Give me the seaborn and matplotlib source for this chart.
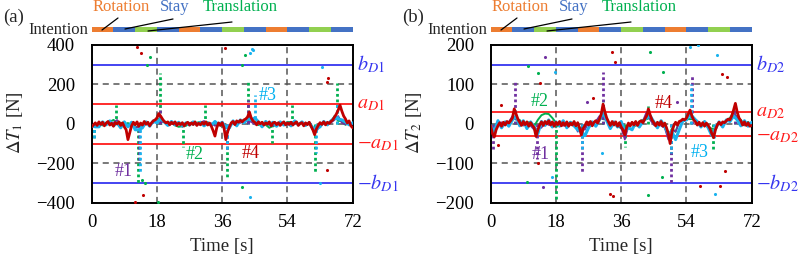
import numpy as np
import matplotlib
matplotlib.use("Agg")
import matplotlib.pyplot as plt
from matplotlib.lines import Line2D
import seaborn as sns

# ---- data ----
# red trace sampled every 0.5 s, the other baselines every 1 s
t_fine = np.arange(0, 72.5, 0.5)
t_coarse = np.arange(0, 73, 1)

red_a = [-15, -5, 5, -8, 10, -3, 8, -10, 4, 12, -6, 3, -12, 6, 0, 10, -8, 5, -15, -30,
         -80, -45, -10, 8, -5, 10, -12, 4, -6, 12, -2, 8, -10, 5, 15, 20, 30, 52, 40, 25,
         12, 5, 10, -5, 8, 0, 10, -8, 4, -4, 6, -10, 2, 8, -6, 5, -3, 10, -8, 3,
         -5, 7, -2, 10, -6, 4, -12, -35, -62, -20, 5, -8, 6, -20, -80, -40, -15, 5, 12, -4,
         15, 8, 18, 10, 20, 25, 35, 60, 30, 15, 8, -5, 10, 0, 8, -6, 5, -2, 10, -10,
         4, 8, -4, 6, -8, 3, 10, -5, 5, -3, 8, -6, 4, 10, -8, 2, 6, -10, 5, -4,
         8, -12, -30, -55, -25, -8, 6, -3, 10, -5, 8, 2, 12, 20, 35, 50, 70, 95, 65, 40,
         25, 5, 15, -10, -20]
cyan_a = [-10, -15, -15, 10, -5, 15, -10, 5, -20, 10, -15, 8, -30, -30, -20, 10, -12, 15, 5, 25,
          10, -8, 12, -5, 8, -10, 5, -6, 10, -4, 8, -10, 5, -8, 12, -5, 8, -20, -20, 15,
          -10, 20, 5, 25, 20, 30, 10, -15, 12, -5, 8, -12, 10, -6, 5, -10, 15, -5, 10, -8,
          6, -20, -25, -15, 12, -5, 15, 30, 25, 20, 10, -5, 5]
green_a = [-5, -10, 5, -8, 6, 10, 20, 8, 5, -6, 4, -8, -20, -10, -10, 5, -4, 8, 30, 12,
           15, -5, 6, -8, -15, -12, -10, 5, -4, 6, 10, 8, 8, -5, 4, -6, -10, -12, -15, 8,
           -4, 10, 20, 15, 15, 5, -6, 8, -5, -20, -10, -8, 6, -4, 10, 8, 8, -5, 6, -8,
           4, -30, -15, -10, 5, -4, 10, 40, 15, 15, -5, 6, -4]
purple_a = [-5, -10, 4, -3, 5, -4, 6, 20, -3, 4, -10, 3, -20, -15, -10, 4, -3, 5, 15, 10,
            8, -4, 3, -5, 4, -15, -3, 5, -4, 3, 6, 15, -4, 3, -10, -5, -8, -12, -10, 4,
            -3, 5, 15, 12, 10, -3, 4, -5, 3, -6, -10, 4, -3, 5, -4, 10, 3, -5, 4, -3,
            5, -20, -40, -5, 3, -4, 6, 20, 40, 5, -3, 4, -2]

red_b = [-5, -25, -33, -15, -5, 3, -6, 4, -3, 6, 2, 8, 15, 38, 25, 12, 4, -4, 6, -2,
         5, -6, 3, -4, -10, -32, -15, -3, 5, -4, 6, 0, 8, -3, 5, -6, 4, -2, 6, -5,
         3, -4, 5, -6, 2, -3, 6, -5, 3, -10, -28, -12, -4, 5, -3, 6, -5, 4, 8, 2,
         12, 25, 50, 30, 15, 5, -4, 6, -3, 5, -6, 3, -8, -15, -28, -10, 2, -5, 4, -3,
         6, -4, 5, 8, 3, 12, 20, 38, 22, 10, 3, -5, 4, -3, 6, -6, 2, -10, -25, -50,
         -20, -5, 4, -3, 6, 8, 12, 10, 15, 25, 35, 20, 10, 5, -3, 4, -5, 3, -6, 2,
         -4, -12, -25, -35, -15, -3, 4, -2, 5, 3, 8, 12, 10, 20, 35, 52, 30, 15, 8, -3,
         5, -4, 2, -6, -4]
cyan_b = [-5, -20, 8, -10, 5, -6, 10, 20, -5, 8, -12, 5, -8, -25, 6, -4, 10, -8, 5, -6,
          8, -10, 4, -5, -15, -20, -30, -10, 5, -6, 10, 30, 8, -12, 5, -8, 6, -20, -10, -15,
          4, -8, 6, 15, 20, 5, -10, 8, -6, -25, -20, -40, -15, 8, 10, 25, 15, 5, -8, 6,
          -10, -30, -12, 5, -8, 10, 6, 20, 10, -5, 8, -6, 4]
green_b = [-5, -8, 4, -3, 5, 2, 15, 12, 10, -4, 3, 5, -6, 10, 22, 26, 25, 15, 3, -5,
           4, -3, 5, -4, -10, -10, -8, 4, -3, 6, 15, 12, 12, -3, 5, -4, -12, -10, -10, 3,
           -5, 6, 10, 12, 15, 3, -5, 4, -8, -30, -12, -20, 5, 8, 12, 12, 12, 4, -6, 3,
           -10, -12, -15, 4, -3, 8, 15, 30, 15, 10, -4, 5, -3]
purple_b = [-10, -10, -5, 4, -3, 5, 20, 10, 8, -4, 3, -5, -15, -12, -10, 4, -3, 5, -4, 3,
            -5, 4, -3, 5, -20, -12, -15, 4, -3, 6, 20, 12, 10, -4, 3, -5, -10, -40, -5, 4,
            -3, 5, 8, 30, 10, -3, 4, -5, -10, -40, -15, -20, 4, 6, 10, 30, 12, 8, -4, 3,
            -6, -30, -10, 4, -3, 5, 10, 30, 15, 8, -3, 4, -2]

# sharp spikes (time, peak value), drawn as dotted columns from zero
spikes_a = {
    "green": ([0.5, 6.7, 12.9, 18.9, 25.3, 31.3, 37.2, 43.2, 49.7, 55.2, 61.6, 67.6],
              [-82, 95, -300, 256, -116, 95, -268, 214, -99, 95, -243, 205]),
    "purple": ([13.1, 18.9, 37.2, 43.2], [-200, 87, -133, 120]),
    "cyan": ([0.5, 13.3, 37.4, 45.0, 61.8, 67.7], [-82, -243, -133, 146, -150, 104]),
}
spikes_b = {
    "green": ([0.7, 6.7, 18.0, 25.1, 31.1, 37.0, 43.5, 49.6, 55.2, 61.4, 67.5],
              [-20, 43, -195, -40, 60, -58, 45, -83, 40, -66, 50]),
    "purple": ([0.7, 6.7, 12.8, 25.1, 31.1, 49.6, 55.4, 67.4],
               [-66, 107, -90, -121, 132, -151, 124, 56]),
    "cyan": ([25.2, 49.8, 55.3, 61.5], [-66, -75, 100, -40]),
}

# scattered outlier samples (time, value)
dots_a = {
    "red": ([12.4, 13.5, 14.1, 12.0, 36.8, 65.3, 64.8, 64.8], [392, 361, -361, -398, 386, 231, 214, -234]),
    "green": ([14.0, 14.6, 15.2, 16.1, 41.4, 42.3, 41.4, 18.4], [-285, -300, 299, 341, 299, 349, -319, -395]),
    "cyan": ([43.7, 44.6, 44.1, 43.7, 63.4, 63.0], [358, 375, 378, -370, 290, -302]),
}
dots_b = {
    "red": ([2.8, 13.1, 13.6, 33.4, 34.3, 28.3, 32.9, 33.8, 63.7, 65.1, 64.6, 57.7, 63.3, 2.1],
            [49, -100, 104, 183, 158, 65, -179, -182, 126, 120, -119, -157, -157, -54]),
    "green": ([10.4, 13.1, 44.0, 47.4, 47.2, 43.5, 10.1],
              [147, 130, 183, 131, -134, -180, -147]),
    "purple": ([15.0, 14.5, 26.5, 51.3], [170, -159, 56, 56]),
    "cyan": ([17.7, 16.8, 30.6, 62.3, 61.9, 55.0, 57.3], [132, -134, -75, 175, -178, 196, 200]),
}

# intention segments, 6 s each
intention = ["Rotation", "Stay", "Translation", "Stay"] * 3
seg_len = 6

COL = {"red": "#C00000", "cyan": "#1AB2EE", "green": "#00B050", "purple": "#7030A0"}
INT_COL = {"Rotation": "#ED7D31", "Stay": "#4472C4", "Translation": "#92D050"}
INT_TXT = {"Rotation": "#ED7D31", "Stay": "#4472C4", "Translation": "#00B050"}
BLUE = "#3535F0"
RED = "#FF1A1A"

sns.set_theme(style="white")
plt.rcParams["font.family"] = ["Liberation Serif", "DejaVu Serif"]
plt.rcParams["mathtext.fontset"] = "stix"
SERIF = ["Liberation Serif", "DejaVu Serif"]

W, H = 800, 263
fig = plt.figure(figsize=(W / 100, H / 100), dpi=100)


def fx(x):
    return x / W


def fy(y):
    return 1 - y / H


panels = [
    dict(x0=91.7, tag="(a)", sub="1", lim=400, step=200, b=300, a=100,
         red=red_a, cyan=cyan_a, green=green_a, purple=purple_a,
         spikes=spikes_a, dots=dots_a,
         notes=[("#1", 8.7, -243, "purple"), ("#2", 28.5, -158, "green"),
                ("#3", 48.5, 146, "cyan"), ("#4", 43.9, -150, "red")]),
    dict(x0=490.7, tag="(b)", sub="2", lim=200, step=100, b=150, a=30,
         red=red_b, cyan=cyan_b, green=green_b, purple=purple_b,
         spikes=spikes_b, dots=dots_b,
         notes=[("#2", 13.4, 56, "green"), ("#1", 13.9, -79, "purple"),
                ("#4", 47.6, 52, "red"), ("#3", 57.7, -73, "cyan")]),
]

for p in panels:
    x0 = p["x0"]
    ax = fig.add_axes([fx(x0), fy(202.7), 261 / W, (202.7 - 45) / H])
    ax.set_xlim(0, 72)
    ax.set_ylim(-p["lim"], p["lim"])
    ax.set_xticks([0, 18, 36, 54, 72])
    ax.set_yticks(np.arange(-p["lim"], p["lim"] + 1, p["step"]))
    ax.grid(True, color="#555555", ls=(0, (4, 3)), lw=1.1)
    ax.tick_params(length=0, labelsize=13.5, colors="black")
    ax.tick_params(axis="y", pad=12)
    ax.tick_params(axis="x", pad=8)
    for s in ax.spines.values():
        s.set_color("black")
        s.set_linewidth(1.4)

    # threshold lines
    for v, c in [(p["b"], BLUE), (-p["b"], BLUE), (p["a"], RED), (-p["a"], RED)]:
        ax.axhline(v, color=c, lw=1.3, zorder=1)

    # spikes as dotted columns
    z = {"green": 2, "purple": 3, "cyan": 4}
    for k, (sx, sy) in p["spikes"].items():
        ax.vlines(sx, 0, sy, colors=COL[k], linestyles=(0, (1, 1)), lw=2.0, zorder=z[k])

    # baseline traces
    sns.lineplot(x=t_coarse, y=p["green"], ax=ax, color=COL["green"], lw=1.4,
                 estimator=None, zorder=2)
    sns.lineplot(x=t_coarse, y=p["purple"], ax=ax, color=COL["purple"], lw=1.2,
                 estimator=None, zorder=3)
    sns.lineplot(x=t_coarse, y=p["cyan"], ax=ax, color=COL["cyan"], lw=2.2,
                 estimator=None, zorder=4)
    sns.lineplot(x=t_fine, y=p["red"], ax=ax, color=COL["red"], lw=2.0,
                 estimator=None, zorder=5)
    for k, (dx, dy) in p["dots"].items():
        sns.scatterplot(x=dx, y=dy, ax=ax, color=COL[k], s=5, linewidth=0, zorder=6)

    for txt, tx, ty, k in p["notes"]:
        c = "#00B0F0" if k == "cyan" else COL[k]
        ax.text(tx, ty, txt, color=c, fontsize=13, ha="center", va="center",
                family=SERIF, zorder=7)

    # right-hand threshold labels
    trans = ax.get_yaxis_transform()
    sub = p["sub"]
    for v, s, c in [(p["b"], rf"$b_{{D{sub}}}$", BLUE), (p["a"], rf"$a_{{D{sub}}}$", RED),
                    (-p["a"], rf"$-a_{{D{sub}}}$", RED), (-p["b"], rf"$-b_{{D{sub}}}$", BLUE)]:
        ax.text(1.015, v, s, transform=trans, color=c, fontsize=14.5, ha="left", va="center")
    ax.set_xlabel("")
    ax.set_ylabel("")

    fig.text(fx(x0 + 130.5), fy(247), "Time [s]", fontsize=13.5, ha="center",
             va="center", family=SERIF)
    fig.text(fx(x0 - 77), fy(123), rf"$\Delta T_{sub}$ [N]", fontsize=13.5,
             rotation=90, ha="center", va="center", family=SERIF)
    fig.text(fx(x0 - 78), fy(17), p["tag"], fontsize=13.5, ha="center", va="center",
             family=SERIF)

    # intention bar
    bx = fig.add_axes([fx(x0), fy(32), 261 / W, 4.7 / H])
    lefts = [i * seg_len for i in range(len(intention))]
    bx.barh(y=[0] * len(intention), width=seg_len, left=lefts, height=1,
            color=[INT_COL[k] for k in intention], linewidth=0)
    bx.set_xlim(0, 72)
    bx.set_ylim(-0.5, 0.5)
    bx.axis("off")
    fig.text(fx(x0 - 3), fy(29.5), "Intention", fontsize=12, ha="right", va="center",
             family=SERIF)

    # labels with leader lines to the bar
    off = x0 - 91.7
    for name, cx, (lx0, ly0, lx1, ly1) in [
        ("Rotation", 121, (118, 18, 102, 30)),
        ("Stay", 175, (173, 19, 125, 29)),
        ("Translation", 240, (232, 22, 148, 31)),
    ]:
        fig.text(fx(cx + off), fy(7), name, color=INT_TXT[name], fontsize=12,
                 ha="center", va="center", family=SERIF)
        fig.add_artist(Line2D([fx(lx0 + off), fx(lx1 + off)], [fy(ly0), fy(ly1)],
                              color="black", lw=0.9))

fig.savefig("out.png", dpi=100)
